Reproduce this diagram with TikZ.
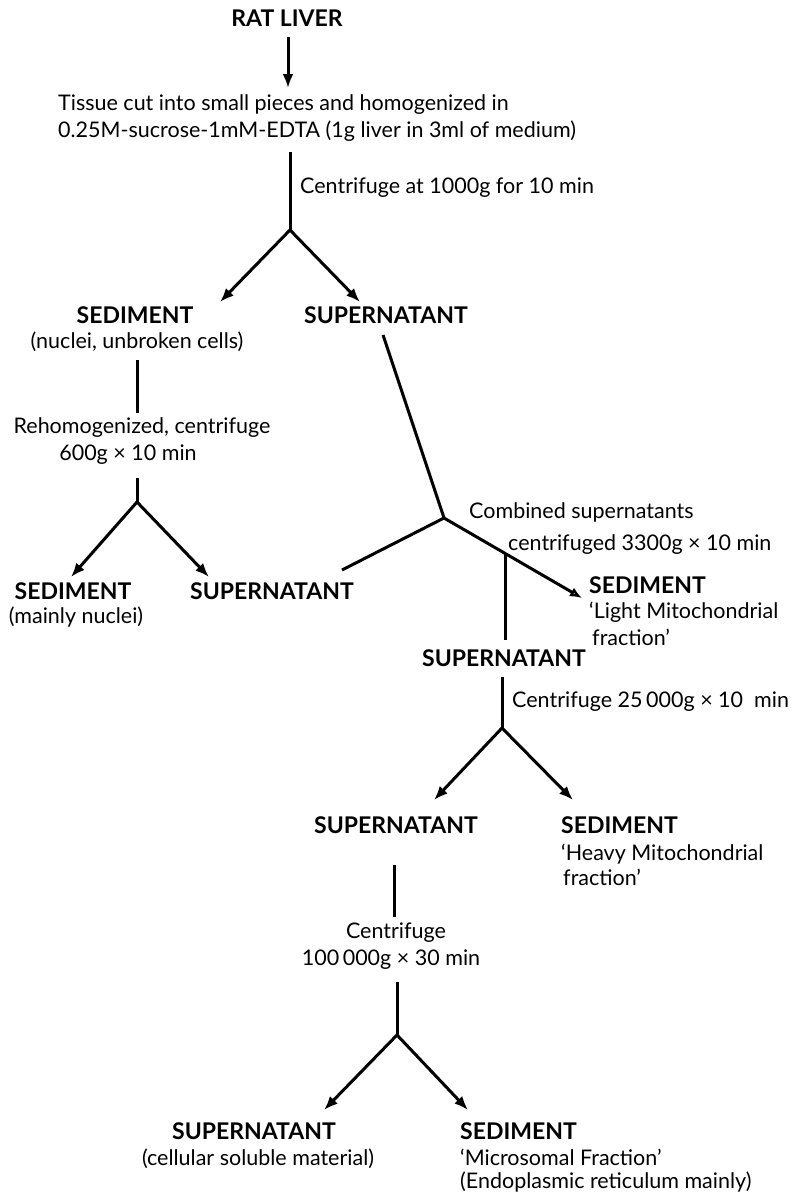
\documentclass[tikz,border=0pt]{standalone}
\usepackage{fontspec}
\setmainfont{Lato}
\usetikzlibrary{arrows.meta}
\begin{document}
\begin{tikzpicture}[x=1pt,y=-1pt,
  lbl/.style={font=\bfseries\fontsize{23}{26}\selectfont, inner sep=0pt, yshift=-4pt},
  txt/.style={font=\fontsize{21.5}{26}\selectfont, inner sep=0pt, yshift=-3pt},
  ln/.style={line width=3pt},
  arr/.style={line width=3pt, -{Latex[length=14pt,width=11pt]}},
  oarr/.style={line width=3pt, -{Latex[open,length=12pt,width=10pt]}},
]
\useasboundingbox (0,0) rectangle (792,1194);
% texts
\node[lbl, anchor=mid] (rat) at (287,20) {RAT LIVER};
\node[txt, anchor=mid west] (tis1) at (58,105) {Tissue cut into small pieces and homogenized in};
\node[txt, anchor=mid west] (tis2) at (58,132) {0.25M-sucrose-1mM-EDTA (1g liver in 3ml of medium)};
\node[txt, anchor=mid west] (c1) at (300,188) {Centrifuge at 1000g for 10 min};
\node[lbl, anchor=mid] (sed1) at (135,317) {SEDIMENT};
\node[txt, anchor=mid] (sed1b) at (137,343) {(nuclei, unbroken cells)};
\node[lbl, anchor=mid] (sup1) at (386,317) {SUPERNATANT};
\node[txt, anchor=mid] (reh1) at (142,428) {Rehomogenized, centrifuge};
\node[txt, anchor=mid] (reh2) at (128,455) {600g × 10 min};
\node[lbl, anchor=mid] (sed2) at (73,593) {SEDIMENT};
\node[txt, anchor=mid] (sed2b) at (76,618) {(mainly nuclei)};
\node[lbl, anchor=mid] (sup2) at (272,593) {SUPERNATANT};
\node[txt, anchor=mid west] (comb1) at (469,513) {Combined supernatants};
\node[txt, anchor=mid west] (comb2) at (508,545) {centrifuged 3300g × 10 min};
\node[lbl, anchor=mid west] (sed3) at (589,587) {SEDIMENT};
\node[txt, anchor=mid west] (sed3b) at (589,613) {‘Light Mitochondrial};
\node[txt, anchor=mid west] (sed3c) at (592,640) {fraction’};
\node[lbl, anchor=mid] (sup3) at (504,660) {SUPERNATANT};
\node[txt, anchor=mid west] (c3) at (512,702) {Centrifuge 25\,000g × 10 \ min};
\node[lbl, anchor=mid] (sup4) at (396,827) {SUPERNATANT};
\node[lbl, anchor=mid west] (sed4) at (561,827) {SEDIMENT};
\node[txt, anchor=mid west] (sed4b) at (561,855) {‘Heavy Mitochondrial};
\node[txt, anchor=mid west] (sed4c) at (563,880) {fraction’};
\node[txt, anchor=mid] (c4a) at (396,933) {Centrifuge};
\node[txt, anchor=mid] (c4b) at (391,960) {100\,000g × 30 min};
\node[lbl, anchor=mid] (sup5) at (254,1133) {SUPERNATANT};
\node[txt, anchor=mid] (sup5b) at (258,1160) {(cellular soluble material)};
\node[lbl, anchor=mid west] (sed5) at (460,1133) {SEDIMENT};
\node[txt, anchor=mid west] (sed5b) at (460,1160) {‘Microsomal Fraction’};
\node[txt, anchor=mid west] (sed5c) at (460,1183) {(Endoplasmic reticulum mainly)};
% coordinates
\coordinate (a0) at (288,37);
\coordinate (a1) at (288,88);
\coordinate (v1) at (290,152);
\coordinate (f1) at (290,230);
\coordinate (f1l) at (220,302);
\coordinate (f1r) at (360,302);
\coordinate (v2) at (137,360);
\coordinate (v2e) at (137,413);
\coordinate (v3) at (137,478);
\coordinate (f2) at (137,502);
\coordinate (f2l) at (71,577);
\coordinate (f2r) at (209,577);
\coordinate (d0) at (383,335);
\coordinate (f3) at (444,518);
\coordinate (f3l) at (342,570);
\coordinate (f3r) at (582,598);
\coordinate (j3) at (505,553);
\coordinate (j3e) at (505,640);
\coordinate (v4) at (502,677);
\coordinate (f4) at (502,728);
\coordinate (f4l) at (434,800);
\coordinate (f4r) at (573,800);
\coordinate (v5) at (394,865);
\coordinate (v5e) at (394,917);
\coordinate (v6) at (397,982);
\coordinate (f6) at (397,1035);
\coordinate (f6l) at (324,1110);
\coordinate (f6r) at (468,1110);
% connectors
\draw[arr] (a0) -- (a1);
\draw[ln] (v1) -- (f1);
\draw[arr] (f1) -- (f1l);
\draw[arr] (f1) -- (f1r);
\draw[ln] (v2) -- (v2e);
\draw[ln] (v3) -- (f2);
\draw[arr] (f2) -- (f2l);
\draw[arr] (f2) -- (f2r);
\draw[ln] (d0) -- (f3) -- (f3l);
\draw[oarr] (f3) -- (f3r);
\draw[ln] (j3) -- (j3e);
\draw[ln] (v4) -- (f4);
\draw[arr] (f4) -- (f4l);
\draw[arr] (f4) -- (f4r);
\draw[ln] (v5) -- (v5e);
\draw[ln] (v6) -- (f6);
\draw[arr] (f6) -- (f6l);
\draw[arr] (f6) -- (f6r);
\end{tikzpicture}
\end{document}
